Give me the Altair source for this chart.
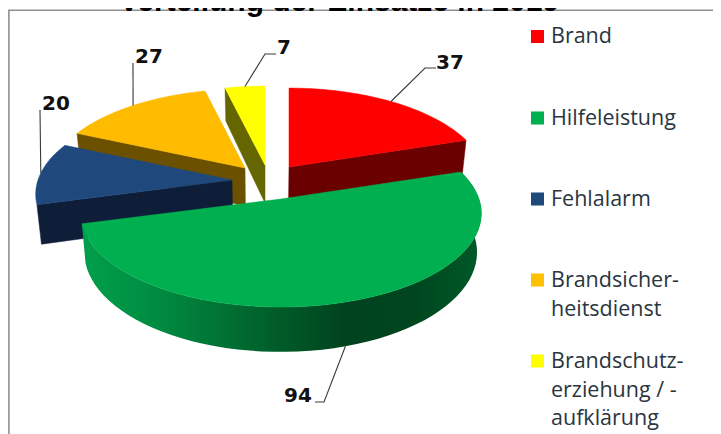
import math
import altair as alt
import pandas as pd

categories = ["Brand", "Hilfeleistung", "Fehlalarm", "Brandsicherheitsdienst", "Brandschutzerziehung"]
values = [37, 94, 20, 27, 7]
top_colors = ["#FF0000", "#00B050", "#1F497D", "#FFBB00", "#FFFF00"]
wall_colors = ["#6B0000", "#00803A", "#0E1E38", "#6B5000", "#666600"]
apex_x = [289, 281, 232, 245, 265]
apex_y = [167, 199, 180, 168, 165]
radius_x = [195, 198, 194, 195, 195]
radius_y = [91, 91.5, 91, 91, 91]
perspective = 0.153
depth = 38

legend_y = [36.5, 118, 199, 280, 361]
legend_lines = [
    ["Brand"], ["Hilfeleistung"], ["Fehlalarm"],
    ["Brandsicher-", "heitsdienst"],
    ["Brandschutz-", "erziehung / -", "aufklärung"],
]
legend_first_baseline = [43, 125, 206, 287, 368]
legend_line_step = 28.5

label_x = [436, 284, 42, 135, 277]
label_y = [69, 402, 110, 63, 54]
elbow_x = [425, 324, 40, 133, 265]
elbow_end_x = [436, 315, 40, 133, 276]
elbow_y = [68, 402, 110, 63, 54]

title_text = "Verteilung der Einsätze in 2019"
W, H = 705, 426
X = alt.X("x:Q", scale=alt.Scale(domain=[8, 713], nice=False, zero=False), axis=None)
Y = alt.Y("y:Q", scale=alt.Scale(domain=[434, 8], nice=False, zero=False), axis=None)


def project(i, deg):
    t = math.radians(deg)
    u, v = math.sin(t), math.cos(t)
    s = 1 + perspective * v
    return apex_x[i] + radius_x[i] * u / s, apex_y[i] - radius_y[i] * v / s, v


def drop(px, py, v):
    return px + (265 - px) * 0.02, py + depth / (1 + perspective * v)


def arc(i, a, b, n=60):
    return [project(i, a + (b - a) * k / n) for k in range(n + 1)]


def poly(points, **mark):
    df = pd.DataFrame({"x": [p[0] for p in points], "y": [p[1] for p in points], "i": list(range(len(points)))})
    return alt.Chart(df).mark_line(interpolate="linear", clip=False, **mark).encode(x=X, y=Y, order=alt.Order("i:Q"))


total = sum(values)
starts, angle = [], 0.0
for val in values:
    starts.append(angle)
    angle += val / total * 360
ends = starts[1:] + [360.0]

layers = []
frame = pd.DataFrame({"x": [8.9, 8.9, 721], "y": [434, 10.2, 10.2], "i": [0, 1, 2]})
layers.append(alt.Chart(frame).mark_line(color="#8F8F8F", strokeWidth=1.6, clip=False).encode(x=X, y=Y, order=alt.Order("i:Q")))

green_gradient = alt.LinearGradient(
    gradient="linear", x1=0, x2=1, y1=0, y2=0,
    stops=[
        alt.GradientStop(color="#00A04C", offset=0),
        alt.GradientStop(color="#008A40", offset=0.2),
        alt.GradientStop(color="#005A28", offset=0.5),
        alt.GradientStop(color="#00431E", offset=0.66),
        alt.GradientStop(color="#00451F", offset=0.82),
        alt.GradientStop(color="#005A28", offset=1),
    ],
)

for i in [4, 0, 3, 2, 1]:
    a, b = starts[i], ends[i]
    apex = (apex_x[i], apex_y[i], 0.0)
    if i == 1:
        path = arc(i, a, b)
    elif i == 0:
        path = [apex, project(i, b)]
    else:
        path = [apex, project(i, a)]
    top = [(p[0], p[1]) for p in path]
    bottom = [drop(*p) for p in reversed(path)]
    wall = top + bottom + [top[0]]
    if i == 1:
        layers.append(poly(wall, fill=green_gradient, strokeWidth=0))
    else:
        layers.append(poly(wall, fill=wall_colors[i], stroke=wall_colors[i], strokeWidth=0.5))
    face = [apex[:2]] + [p[:2] for p in arc(i, a, b)] + [apex[:2]]
    layers.append(poly(face, fill=top_colors[i], stroke=top_colors[i], strokeWidth=0.5))

for i in range(5):
    mid = (starts[i] + ends[i]) / 2
    px, py, v = project(i, mid)
    if i == 1:
        px, py = drop(px, py, v)
    pts = [(px, py), (elbow_x[i], elbow_y[i]), (elbow_end_x[i], elbow_y[i])]
    layers.append(poly(pts, color="#3A3A3A", strokeWidth=1.1))

labels = pd.DataFrame({"x": label_x, "y": label_y, "t": [str(v) for v in values]})
layers.append(
    alt.Chart(labels).mark_text(font="DejaVu Sans", fontWeight="bold", fontSize=20, align="left", baseline="alphabetic", color="#111111", clip=False)
    .encode(x=X, y=Y, text="t:N")
)

squares = pd.DataFrame({"x": [537.5] * 5, "y": legend_y, "c": categories})
layers.append(
    alt.Chart(squares).mark_square(size=170, opacity=1, clip=False)
    .encode(x=X, y=Y, color=alt.Color("c:N", scale=alt.Scale(domain=categories, range=["#FF0000", "#00B050", "#1F497D", "#FFC000", "#FFFF00"]), legend=None))
)

rows = []
for base, lines in zip(legend_first_baseline, legend_lines):
    for n, line in enumerate(lines):
        rows.append({"x": 551, "y": base + n * legend_line_step, "t": line})
layers.append(
    alt.Chart(pd.DataFrame(rows)).mark_text(font="Open Sans", fontSize=21.5, align="left", baseline="alphabetic", color="#2A3540", clip=False)
    .encode(x=X, y=Y, text="t:N")
)

title_df = pd.DataFrame({"x": [339], "y": [11], "t": [title_text]})
layers.append(
    alt.Chart(title_df).mark_text(font="Liberation Sans", fontWeight="bold", fontSize=30, align="center", baseline="alphabetic", color="#000000", clip=False)
    .encode(x=X, y=Y, text="t:N")
)

chart = alt.layer(*layers).properties(
    width=W, height=H, padding=0, background="white",
    autosize=alt.AutoSizeParams(type="none", contains="padding"),
).configure_view(stroke=None)
chart.save("out.html", embed_options={"renderer": "svg", "actions": False})
